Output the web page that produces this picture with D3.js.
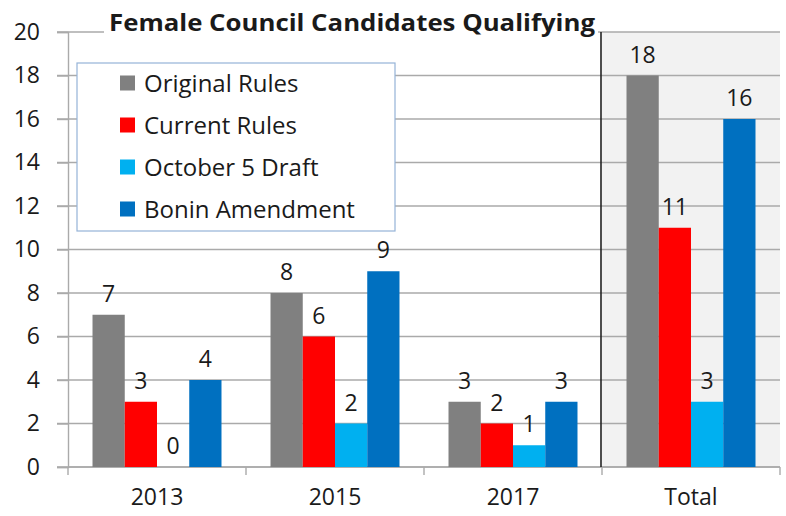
<!DOCTYPE html>
<html>
<head>
<meta charset="utf-8">
<script src="https://cdn.jsdelivr.net/npm/d3@7/dist/d3.min.js"></script>
<style>
  body { margin: 0; background: #fff; }
  text { font-family: "Open Sans", Lato, sans-serif; fill: #1a1a1a; }
</style>
</head>
<body>
<div id="chart"></div>
<script>
// datos
const categories = ["2013", "2015", "2017", "Total"];
const seriesNames = ["Original Rules", "Current Rules", "October 5 Draft", "Bonin Amendment"];
const originalRules = [7, 8, 3, 18];
const currentRules = [3, 6, 2, 11];
const october5Draft = [0, 2, 1, 3];
const boninAmendment = [4, 9, 3, 16];
const yTicks = [0, 2, 4, 6, 8, 10, 12, 14, 16, 18, 20];
const colors = ["#808080", "#ff0000", "#00b0f0", "#0070c0"];
const chartTitle = "Female Council Candidates Qualifying";

const seriesValues = [originalRules, currentRules, october5Draft, boninAmendment];

const width = 786;
const height = 516;
const margin = { left: 68, right: 6, top: 32, bottom: 49 };

const svg = d3.select("#chart")
  .append("svg")
  .attr("width", width)
  .attr("height", height);

// escalas
const x = d3.scaleBand()
  .domain(categories)
  .range([margin.left, width - margin.right])
  .padding(0);

const xSub = d3.scaleBand()
  .domain(seriesNames)
  .range([0, x.bandwidth()])
  .paddingInner(0)
  .paddingOuter(0.76);

const y = d3.scaleLinear()
  .domain([0, 20])
  .range([height - margin.bottom, margin.top]);

const color = d3.scaleOrdinal().domain(seriesNames).range(colors);

// fondo gris para "Total"
svg.append("rect")
  .attr("x", x("Total"))
  .attr("y", y(20))
  .attr("width", x.bandwidth())
  .attr("height", y(0) - y(20))
  .attr("fill", "#f2f2f2");

// grid
svg.append("g")
  .selectAll("line")
  .data(yTicks)
  .enter()
  .append("line")
  .attr("x1", margin.left - 11)
  .attr("x2", width - margin.right)
  .attr("y1", d => y(d))
  .attr("y2", d => y(d))
  .attr("stroke", "#aaaaaa")
  .attr("stroke-width", 1.4);

// eje Y
const yAxis = svg.append("g")
  .attr("transform", `translate(${margin.left},0)`)
  .call(d3.axisLeft(y).tickValues(yTicks).tickSize(11).tickPadding(17));
yAxis.select(".domain").attr("stroke", "#aaaaaa").attr("stroke-width", 1.4);
yAxis.selectAll(".tick line").attr("stroke", "#aaaaaa").attr("stroke-width", 1.4);
yAxis.selectAll("text")
  .style("font-family", "'Open Sans', sans-serif")
  .style("font-size", "23px")
  .attr("fill", "#1a1a1a");

// eje X (línea y marcas en los bordes)
svg.append("line")
  .attr("x1", margin.left)
  .attr("x2", width - margin.right)
  .attr("y1", y(0))
  .attr("y2", y(0))
  .attr("stroke", "#aaaaaa")
  .attr("stroke-width", 1.4);

const bounds = categories.map(c => x(c)).concat([x("Total") + x.bandwidth()]);
svg.append("g")
  .selectAll("line")
  .data(bounds)
  .enter()
  .append("line")
  .attr("x1", d => d)
  .attr("x2", d => d)
  .attr("y1", y(0))
  .attr("y2", y(0) + 8)
  .attr("stroke", "#aaaaaa")
  .attr("stroke-width", 1.4);

svg.append("g")
  .selectAll("text")
  .data(categories)
  .enter()
  .append("text")
  .attr("x", d => x(d) + x.bandwidth() / 2)
  .attr("y", y(0) + 38)
  .attr("text-anchor", "middle")
  .style("font-size", "23px")
  .text(d => d);

// línea vertical negra
svg.append("line")
  .attr("x1", x("Total") - 1)
  .attr("x2", x("Total") - 1)
  .attr("y1", y(20))
  .attr("y2", y(0))
  .attr("stroke", "#222")
  .attr("stroke-width", 1.6);

// barras
const groups = svg.append("g")
  .selectAll("g")
  .data(categories)
  .enter()
  .append("g")
  .attr("transform", d => `translate(${x(d)},0)`);

const cells = groups.selectAll("g")
  .data((c, ci) => seriesNames.map((s, si) => ({ key: s, value: seriesValues[si][ci] })))
  .enter()
  .append("g");

cells.append("rect")
  .attr("x", d => xSub(d.key))
  .attr("y", d => y(d.value))
  .attr("width", xSub.bandwidth())
  .attr("height", d => y(0) - y(d.value))
  .attr("fill", d => color(d.key));

cells.append("text")
  .attr("x", d => xSub(d.key) + xSub.bandwidth() / 2)
  .attr("y", d => y(d.value) - 13)
  .attr("text-anchor", "middle")
  .style("font-size", "23px")
  .text(d => d.value);

// título
svg.append("rect")
  .attr("x", 104)
  .attr("y", 8)
  .attr("width", 494)
  .attr("height", 30)
  .attr("fill", "#fff");

svg.append("text")
  .attr("x", 352)
  .attr("y", 31)
  .attr("text-anchor", "middle")
  .attr("textLength", 486)
  .attr("lengthAdjust", "spacingAndGlyphs")
  .style("font-size", "23px")
  .style("font-weight", "700")
  .attr("fill", "#000")
  .text(chartTitle);

// leyenda
const legend = svg.append("g")
  .attr("transform", "translate(77,63)");

legend.append("rect")
  .attr("width", 318)
  .attr("height", 168)
  .attr("fill", "#fff")
  .attr("stroke", "#95b3d7")
  .attr("stroke-width", 1.2);

const legendItem = legend.selectAll(".legend-item")
  .data(seriesNames)
  .enter()
  .append("g")
  .attr("class", "legend-item")
  .attr("transform", (d, i) => `translate(43, ${20 + i * 42})`);

legendItem.append("rect")
  .attr("x", 0)
  .attr("y", -7.5)
  .attr("width", 15)
  .attr("height", 15)
  .attr("fill", d => color(d));

legendItem.append("text")
  .attr("x", 24)
  .attr("y", 8.5)
  .style("font-size", "24px")
  .text(d => d);
</script>
</body>
</html>
